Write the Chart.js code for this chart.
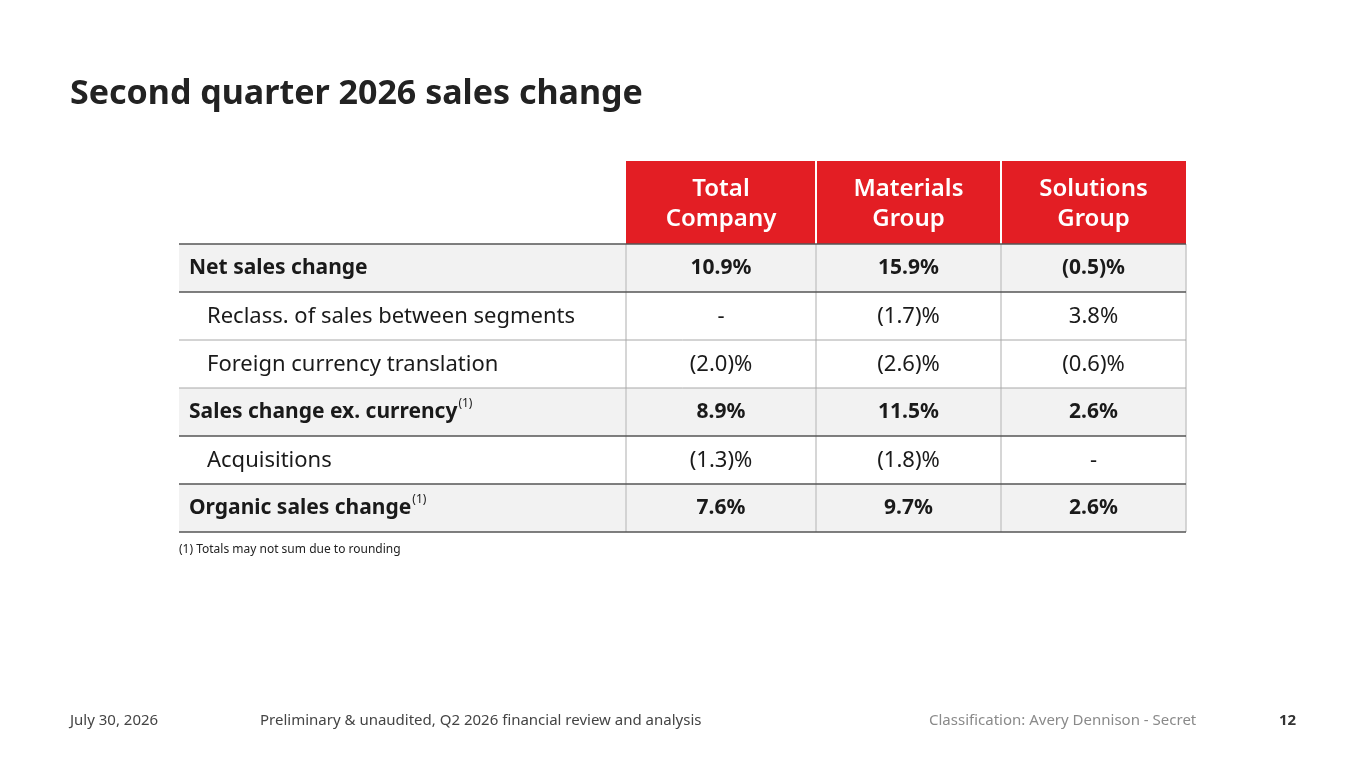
<!DOCTYPE html>
<html>
<head>
<meta charset="utf-8">
<script src="https://cdn.jsdelivr.net/npm/chart.js@4.4.1/dist/chart.umd.min.js"></script>
<style>
  html, body { margin: 0; padding: 0; background: #fff; }
  body { width: 1365px; height: 768px; position: relative; overflow: hidden; font-family: "Noto Sans", Lato, sans-serif; }
  #wrap { position: absolute; left: 0; top: 0; width: 1365px; height: 768px; }
  .txt { position: absolute; white-space: nowrap; line-height: 1; }
  #title { left: 70px; top: 74px; font-size: 34px; font-weight: 700; color: #222; }
  #note { left: 179px; top: 543px; font-size: 12px; color: #222; }
  .foot { top: 712px; font-size: 15px; color: #444; }
</style>
</head>
<body>
<div id="wrap"><canvas id="tableChart"></canvas></div>
<div class="txt" id="title">Second quarter 2026 sales change</div>
<div class="txt" id="note">(1) Totals may not sum due to rounding</div>
<div class="txt foot" style="left:70px">July 30, 2026</div>
<div class="txt foot" style="left:260px">Preliminary &amp; unaudited, Q2 2026 financial review and analysis</div>
<div class="txt foot" style="left:929px;color:#8a8a8a">Classification: Avery Dennison - Secret</div>
<div class="txt foot" style="left:1279px;font-weight:700;color:#333">12</div>
<script>
// table content
var columnHeads = [['Total', 'Company'], ['Materials', 'Group'], ['Solutions', 'Group']];
var rowLabels = ['Net sales change', 'Reclass. of sales between segments', 'Foreign currency translation',
                 'Sales change ex. currency', 'Acquisitions', 'Organic sales change'];
var rowNotes = ['', '', '', '(1)', '', '(1)'];
var totalCompany = [10.9, null, -2.0, 8.9, -1.3, 7.6];
var materialsGroup = [15.9, -1.7, -2.6, 11.5, -1.8, 9.7];
var solutionsGroup = [-0.5, 3.8, -0.6, 2.6, null, 2.6];

// layout / style
var colWidths = [447, 190, 185, 185];
var headerRows = 83 / 48;
var rowBold = [true, false, false, true, false, true];
var lineBelowDark = [true, false, false, true, true, true];
var red = '#e31e24';
var fontFam = '"Noto Sans", Lato, sans-serif';

function fmt(v) {
    if (v === null) return '-';
    if (v < 0) return '(' + Math.abs(v).toFixed(1) + ')%';
    return v.toFixed(1) + '%';
}

var colEdges = [0];
colWidths.forEach(function (w) { colEdges.push(colEdges[colEdges.length - 1] + w); });
var valueCols = [totalCompany, materialsGroup, solutionsGroup];

var tablePlugin = {
    id: 'tablePlugin',
    afterDraw: function (chart) {
        var ctx = chart.ctx;
        var xs = chart.scales.x, ys = chart.scales.y;
        var X = function (v) { return xs.getPixelForValue(v); };
        var Y = function (v) { return ys.getPixelForValue(v); };
        var left = X(0), right = X(colEdges[colEdges.length - 1]);
        ctx.save();

        // header cells
        var hTop = Y(0), hBot = Y(headerRows);
        for (var c = 1; c < colWidths.length; c++) {
            ctx.fillStyle = red;
            ctx.fillRect(X(colEdges[c]), hTop, X(colEdges[c + 1]) - X(colEdges[c]), hBot - hTop);
        }
        // white separators between header cells
        ctx.strokeStyle = '#ffffff';
        ctx.lineWidth = 2;
        for (c = 2; c < colWidths.length; c++) {
            ctx.beginPath();
            ctx.moveTo(X(colEdges[c]), hTop);
            ctx.lineTo(X(colEdges[c]), hBot);
            ctx.stroke();
        }
        ctx.fillStyle = '#ffffff';
        ctx.font = '600 24px ' + fontFam;
        ctx.textAlign = 'center';
        ctx.textBaseline = 'middle';
        columnHeads.forEach(function (lines, i) {
            var cx = X((colEdges[i + 1] + colEdges[i + 2]) / 2);
            var cy = (hTop + hBot) / 2 + 1.5;
            ctx.fillText(lines[0], cx, cy - 15);
            ctx.fillText(lines[1], cx, cy + 15);
        });

        // body rows
        rowLabels.forEach(function (label, r) {
            var top = Y(headerRows + r), bot = Y(headerRows + r + 1);
            var mid = (top + bot) / 2 + 0.5;
            var weight = rowBold[r] ? '700 21px ' : '400 22px ';
            if (rowBold[r]) {
                ctx.fillStyle = '#f2f2f2';
                ctx.fillRect(left, top, right - left, bot - top);
            }
            // vertical light lines
            ctx.strokeStyle = '#c8c8c8';
            ctx.lineWidth = 1.5;
            for (var c = 1; c <= colWidths.length; c++) {
                ctx.beginPath();
                ctx.moveTo(X(colEdges[c]), top);
                ctx.lineTo(X(colEdges[c]), bot);
                ctx.stroke();
            }
            // text
            ctx.fillStyle = '#1a1a1a';
            ctx.textBaseline = 'middle';
            ctx.textAlign = 'left';
            ctx.font = weight + fontFam;
            var tx = left + (rowBold[r] ? 10 : 28);
            ctx.fillText(label, tx, mid);
            if (rowNotes[r]) {
                var w = ctx.measureText(label).width;
                ctx.font = '400 12px ' + fontFam;
                ctx.fillText(rowNotes[r], tx + w + 1, mid - 9);
            }
            ctx.textAlign = 'center';
            ctx.font = weight + fontFam;
            valueCols.forEach(function (vals, i) {
                var cx = X((colEdges[i + 1] + colEdges[i + 2]) / 2);
                ctx.fillText(fmt(vals[r]), cx, mid);
            });
        });

        // horizontal rules
        var drawRule = function (y, dark) {
            ctx.strokeStyle = dark ? '#555555' : '#a8a8a8';
            ctx.lineWidth = dark ? 1.5 : 1;
            ctx.beginPath();
            ctx.moveTo(left, y);
            ctx.lineTo(right, y);
            ctx.stroke();
        };
        drawRule(hBot, true);
        rowLabels.forEach(function (label, r) {
            drawRule(Y(headerRows + r + 1), lineBelowDark[r]);
        });
        ctx.restore();
    }
};

new Chart(document.getElementById('tableChart'), {
    type: 'scatter',
    data: { datasets: [] },
    options: {
        responsive: true,
        maintainAspectRatio: false,
        animation: false,
        events: [],
        layout: { padding: { left: 179, right: 179, top: 161, bottom: 236 } },
        plugins: { legend: { display: false }, tooltip: { enabled: false } },
        scales: {
            x: { type: 'linear', display: false, min: 0, max: colEdges[colEdges.length - 1] },
            y: { type: 'linear', display: false, reverse: true, min: 0, max: headerRows + rowLabels.length }
        }
    },
    plugins: [tablePlugin]
});
</script>
</body>
</html>
